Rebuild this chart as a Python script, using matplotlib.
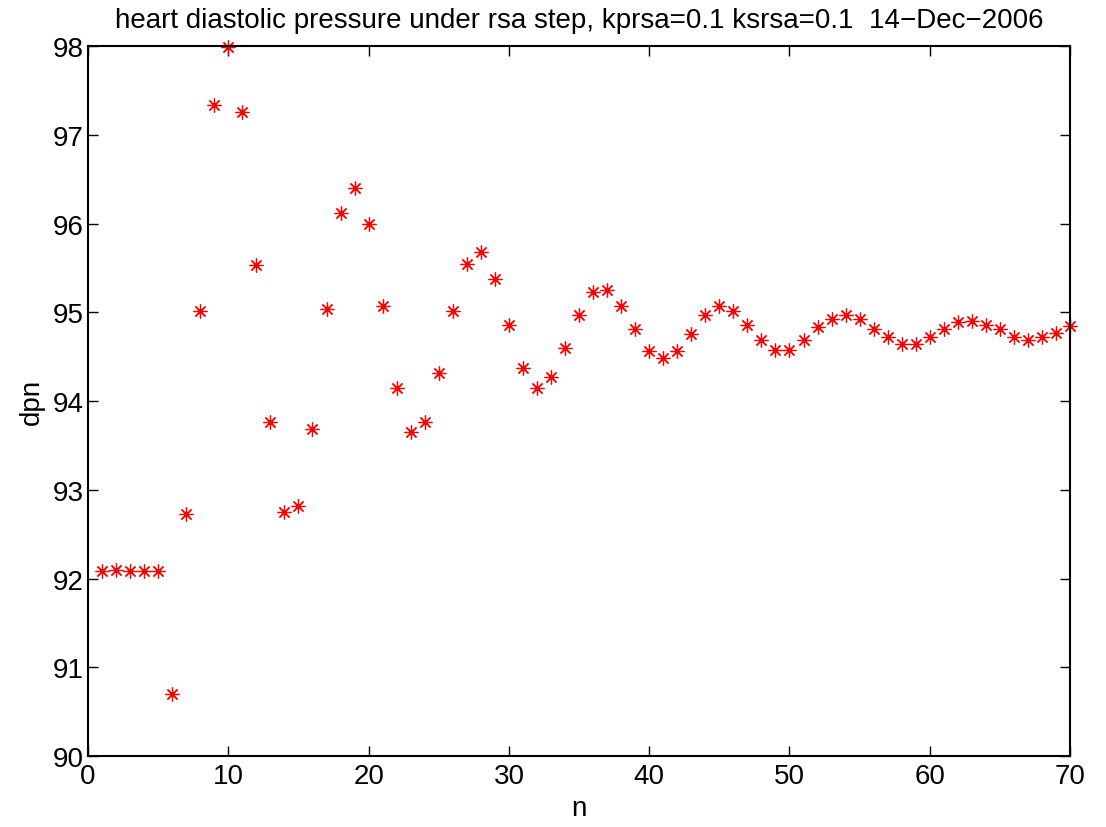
import numpy as np
import matplotlib.pyplot as plt

plt.rcParams['font.family'] = ['Liberation Sans', 'DejaVu Sans']

# heart diastolic pressure per beat
n = np.arange(1, 71)
dpn = [
    92.08, 92.10, 92.08, 92.08, 92.08, 90.70, 92.73, 95.02, 97.34, 97.99,
    97.26, 95.53, 93.76, 92.75, 92.82, 93.68, 95.04, 96.12, 96.40, 96.00,
    95.07, 94.15, 93.65, 93.76, 94.32, 95.02, 95.54, 95.68, 95.37, 94.86,
    94.37, 94.15, 94.27, 94.60, 94.97, 95.23, 95.25, 95.07, 94.81, 94.56,
    94.48, 94.56, 94.76, 94.97, 95.07, 95.02, 94.86, 94.69, 94.58, 94.58,
    94.69, 94.83, 94.92, 94.97, 94.92, 94.81, 94.72, 94.64, 94.64, 94.72,
    94.81, 94.89, 94.90, 94.86, 94.81, 94.72, 94.69, 94.72, 94.77, 94.84,
]

xticks = [0, 10, 20, 30, 40, 50, 60, 70]
yticks = [90, 91, 92, 93, 94, 95, 96, 97, 98]
title = 'heart diastolic pressure under rsa step, kprsa=0.1 ksrsa=0.1  14\u2212Dec\u22122006'

fig = plt.figure(figsize=(11.06, 8.28), dpi=100)
ax = fig.add_axes([0.0796, 0.0857, 0.8879, 0.8575])

ax.plot(n, dpn, linestyle='none', marker=(8, 2, 0), markersize=10,
        markeredgewidth=0.9, color='#ff0000', clip_on=False)

ax.set_xlim(0, 70)
ax.set_ylim(90, 98)
ax.set_xticks(xticks)
ax.set_yticks(yticks)
ax.tick_params(direction='in', length=7, width=1, top=True, right=True,
               labelsize=20)
ax.tick_params(axis='x', pad=5)
ax.tick_params(axis='y', pad=3)
for s in ax.spines.values():
    s.set_linewidth(1.5)

ax.set_xlabel('n', fontsize=20, labelpad=4)
ax.set_ylabel('dpn', fontsize=20, labelpad=6)
ax.set_title(title, fontsize=20, pad=14)

fig.savefig('out.png', dpi=100)
